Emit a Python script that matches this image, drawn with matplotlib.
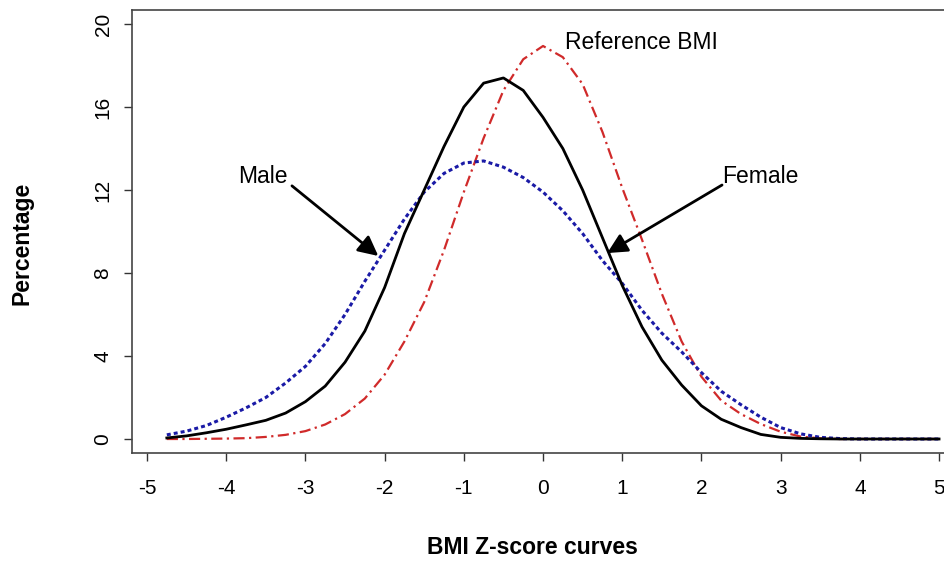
import matplotlib
matplotlib.use("Agg")
import matplotlib.pyplot as plt

plt.rcParams['font.family'] = ['Liberation Sans', 'DejaVu Sans']

# z-score grid (0.25 steps)
z = [-4.75, -4.5, -4.25, -4.0, -3.75, -3.5, -3.25, -3.0, -2.75, -2.5,
     -2.25, -2.0, -1.75, -1.5, -1.25, -1.0, -0.75, -0.5, -0.25, 0.0,
     0.25, 0.5, 0.75, 1.0, 1.25, 1.5, 1.75, 2.0, 2.25, 2.5,
     2.75, 3.0, 3.25, 3.5, 3.75, 4.0, 4.25, 4.5, 4.75, 5.0]

female = [0.05, 0.15, 0.3, 0.47, 0.68, 0.9, 1.25, 1.8, 2.55, 3.7,
          5.2, 7.3, 9.9, 12.0, 14.1, 16.0, 17.15, 17.4, 16.8, 15.5,
          14.0, 12.0, 9.7, 7.4, 5.4, 3.8, 2.6, 1.6, 0.95, 0.55,
          0.22, 0.08, 0.03, 0.01, 0.0, 0.0, 0.0, 0.0, 0.0, 0.0]

male = [0.2, 0.38, 0.65, 1.05, 1.5, 2.0, 2.7, 3.5, 4.6, 6.0,
        7.6, 9.1, 10.6, 11.9, 12.8, 13.3, 13.4, 13.1, 12.6, 11.9,
        11.0, 9.9, 8.6, 7.5, 6.2, 5.1, 4.2, 3.2, 2.3, 1.65,
        1.05, 0.55, 0.25, 0.08, 0.02, 0.0, 0.0, 0.0, 0.0, 0.0]

reference = [0.0, 0.0, 0.01, 0.02, 0.04, 0.1, 0.2, 0.38, 0.7, 1.2,
             1.95, 3.1, 4.7, 6.6, 9.1, 11.9, 14.5, 16.8, 18.3, 18.94,
             18.4, 17.1, 14.8, 12.1, 9.6, 7.0, 4.7, 3.0, 1.85, 1.2,
             0.72, 0.35, 0.12, 0.03, 0.0, 0.0, 0.0, 0.0, 0.0, 0.0]

xticks = [-5, -4, -3, -2, -1, 0, 1, 2, 3, 4, 5]
yticks = [0, 4, 8, 12, 16, 20]

fig = plt.figure(figsize=(9.44, 5.74), dpi=100)
# right edge of the box falls outside the picture, as in the original
ax = fig.add_axes([0.1398, 0.2108, 0.8709, 0.7718])

ax.plot(z, reference, color='#d02a2a', lw=1.6, linestyle=(0, (5.0, 2.0, 1.0, 2.0)))
ax.plot(z, male, color='#1a1aa6', lw=2.2, linestyle=(0, (1.3, 1.0)))
ax.plot(z, female, color='black', lw=2.0)

ax.set_xlim(-5.19, 5.19)
ax.set_ylim(-0.675, 20.675)
ax.set_xticks(xticks)
ax.set_yticks(yticks)
ax.set_xticklabels([str(v) for v in xticks], fontsize=15)
ax.set_yticklabels([str(v) for v in yticks], fontsize=15, rotation=90, va='center')
ax.tick_params(axis='x', length=6, width=1, color='#333333', pad=13)
ax.tick_params(axis='y', length=6, width=1, color='#333333', pad=8)
for sp in ax.spines.values():
    sp.set_color('#444444')
    sp.set_linewidth(1.2)

fig.text(532 / 944, 1 - 547 / 574, "BMI Z-score curves", fontsize=16.5,
         fontweight='bold', ha='center', va='center')
fig.text(22 / 944, 1 - 243 / 574, "Percentage", fontsize=16.5,
         fontweight='bold', ha='center', va='center', rotation=90)

arrow = dict(arrowstyle='-|>,head_length=0.6,head_width=0.3', lw=2, color='black',
             mutation_scale=20, shrinkA=0, shrinkB=0)
ax.annotate('', xy=(-2.08, 8.82), xytext=(-3.17, 12.2), arrowprops=arrow)
ax.annotate('', xy=(0.81, 8.96), xytext=(2.26, 12.24), arrowprops=arrow)
ax.text(-3.54, 12.67, "Male", fontsize=16.5, ha='center', va='center')
ax.text(2.74, 12.67, "Female", fontsize=16.5, ha='center', va='center')
ax.text(0.28, 19.13, "Reference BMI", fontsize=16.5, ha='left', va='center')

fig.savefig("out.png", dpi=100)
